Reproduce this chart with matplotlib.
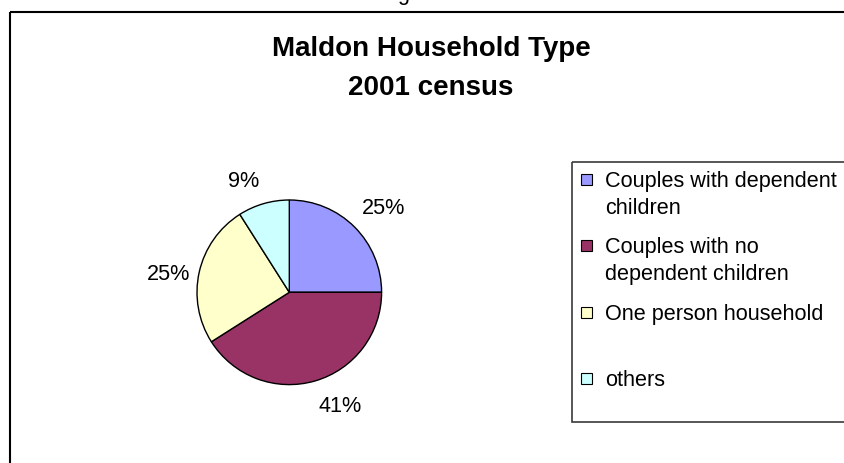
import numpy as np
import matplotlib
matplotlib.use('Agg')
import matplotlib.pyplot as plt
from matplotlib.patches import Rectangle

plt.rcParams['font.family'] = ['Liberation Sans', 'DejaVu Sans']

# household types, 2001 census (percent of households)
categories = ['Couples with dependent\nchildren',
              'Couples with no\ndependent children',
              'One person household',
              'others']
shares = [25, 41, 25, 9]
colors = ['#9999FF', '#993366', '#FFFFCC', '#CCFFFF']

W, H = 845, 464
fig = plt.figure(figsize=(W / 100, H / 100), dpi=100)

# overlay in pixel units for frame, title and legend
bg = fig.add_axes([0, 0, 1, 1])
bg.set_xlim(0, W)
bg.set_ylim(H, 0)
bg.axis('off')

bg.add_patch(Rectangle((10, 13), 1000, 600, fill=False, lw=1.5, ec='black'))
bg.text(403, 0, 'g', ha='center', va='baseline', fontsize=15.6)

bg.text(431, 56.5, 'Maldon Household Type', ha='center', va='baseline',
        fontsize=20, fontweight='bold')
bg.text(431, 95, '2001 census', ha='center', va='baseline',
        fontsize=20, fontweight='bold')

# pie
cx, cy, r = 289.3, 293.3, 92.3
pax = fig.add_axes([(cx - r) / W, (H - cy - r) / H, 2 * r / W, 2 * r / H])
wedges, texts, autotexts = pax.pie(
    shares, colors=colors, startangle=90, counterclock=False,
    autopct=lambda p: f'{p:.0f}%', pctdistance=1.33,
    wedgeprops=dict(edgecolor='black', linewidth=1.0),
    textprops=dict(fontsize=15.6))
pax.set_xlim(-1, 1)
pax.set_ylim(-1, 1)

# nudge labels the way the spreadsheet places them
nudge_deg = [-3, 8, 3.5, 6]
dist = [1.37, 1.35, 1.32, 1.31]
for w, t, dn, d in zip(wedges, autotexts, nudge_deg, dist):
    a = np.deg2rad((w.theta1 + w.theta2) / 2 + dn)
    t.set_position((d * np.cos(a), d * np.sin(a)))
    t.set_ha('center')
    t.set_va('center')

# legend
bg.add_patch(Rectangle((572, 163), 400, 260, fill=False, lw=1.2, ec='#3a3a3a'))
for i, (lab, col) in enumerate(zip(categories, colors)):
    y0 = 187 + 66.5 * i
    bg.add_patch(Rectangle((581, y0 - 12.5), 11, 11, fc=col, ec='black', lw=0.8))
    for k, line in enumerate(lab.split('\n')):
        bg.text(605, y0 + 27 * k, line, ha='left', va='baseline', fontsize=15.6)

fig.savefig('out.png', dpi=100)
